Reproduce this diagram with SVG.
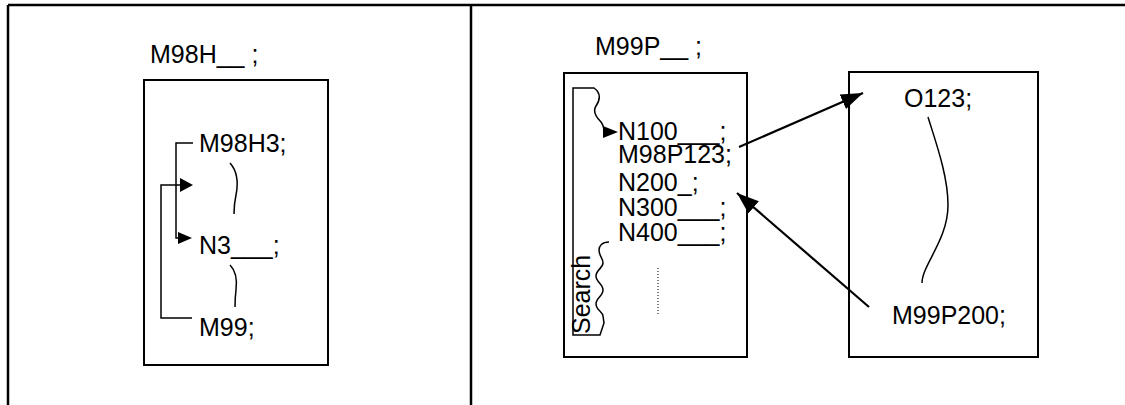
<svg xmlns="http://www.w3.org/2000/svg" width="1125" height="405" viewBox="0 0 1125 405">
<style>
text{font-family:"Liberation Sans",Arial,sans-serif;font-size:25px;fill:#000}
.ln{fill:none;stroke:#000;stroke-width:1.5}
.box{fill:none;stroke:#000;stroke-width:2}
.frame{fill:none;stroke:#000;stroke-width:2.5}
.arr{fill:none;stroke:#000;stroke-width:2.2}
.tri{fill:#000;stroke:none}
</style>
<defs>
<marker id="ah" markerUnits="userSpaceOnUse" markerWidth="24" markerHeight="20" viewBox="0 0 24 20" refX="22" refY="10" orient="auto">
<path d="M0,2 L22,10 L0,18 Z" fill="#000"/>
</marker>
</defs>
<g id="frame">
<line class="frame" x1="8" y1="5" x2="1125" y2="5"/>
<line class="frame" x1="8" y1="5" x2="8" y2="405"/>
<line class="frame" x1="471" y1="5" x2="471" y2="405"/>
</g>
<g id="left-panel">
<text x="150" y="63">M98H__ ;</text>
<rect class="box" x="144" y="80" width="184" height="285"/>
<text x="199" y="152" font-size="25.5">M98H3;</text>
<text x="199" y="254" font-size="25.5">N3___;</text>
<text x="199" y="336" font-size="25.5">M99;</text>
</g>
<g id="middle-panel">
<text x="595" y="55">M99P__ ;</text>
<rect class="box" x="564" y="73" width="183" height="284"/>
<text x="618" y="140">N100___;</text>
<text x="618" y="163">M98P123;</text>
<text x="618" y="191">N200_;</text>
<text x="618" y="216">N300___;</text>
<text x="618" y="241">N400___;</text>
<line x1="658" y1="268" x2="658" y2="315" stroke="#000" stroke-width="1" stroke-dasharray="1,2"/>
<text transform="translate(590,334) rotate(-90)" font-size="21">Search</text>
</g>
<g id="right-panel">
<rect class="box" x="849" y="72" width="189" height="285"/>
<text x="904" y="107">O123;</text>
<text x="892" y="324">M99P200;</text>
</g>
<g id="connectors">
<!-- left panel brackets -->
<polyline class="ln" points="193,143 176,143 176,238 181,238"/>
<polygon class="tri" points="178,232 192,238 178,244"/>
<polyline class="ln" points="192,318 161,318 161,185 181,185"/>
<polygon class="tri" points="180,178 193,185 180,192"/>
<path class="ln" d="M230,163 C238,172 238,185 236,195 C234,204 234,210 234,214"/>
<path class="ln" d="M230,265 C237,272 237,282 236,290 C235,298 235,302 235,307"/>
<!-- search bracket -->
<path class="ln" d="M609,242 C602,242 599,246 599,250 C599,256 603,258 603,263 C603,268 596,270 596,276 C596,282 603,284 603,290 C603,296 596,298 596,304 C596,310 603,312 603,316 L604,323 L600,335 L573,335 L573,88 L594,88 C601,93 600,100 596,106 C592,112 597,118 601,122 C604,126 604,129 604,132"/>
<polygon class="tri" points="603,126 618,132 603,138"/>
<!-- right panel wave -->
<path class="ln" d="M928,117 C935,140 948,175 948,205 C948,240 922,265 922,283"/>
<!-- cross arrows -->
<line class="arr" x1="739" y1="147" x2="863" y2="93" marker-end="url(#ah)"/>
<line class="arr" x1="869" y1="307" x2="737" y2="193" marker-end="url(#ah)"/>
</g>
</svg>
